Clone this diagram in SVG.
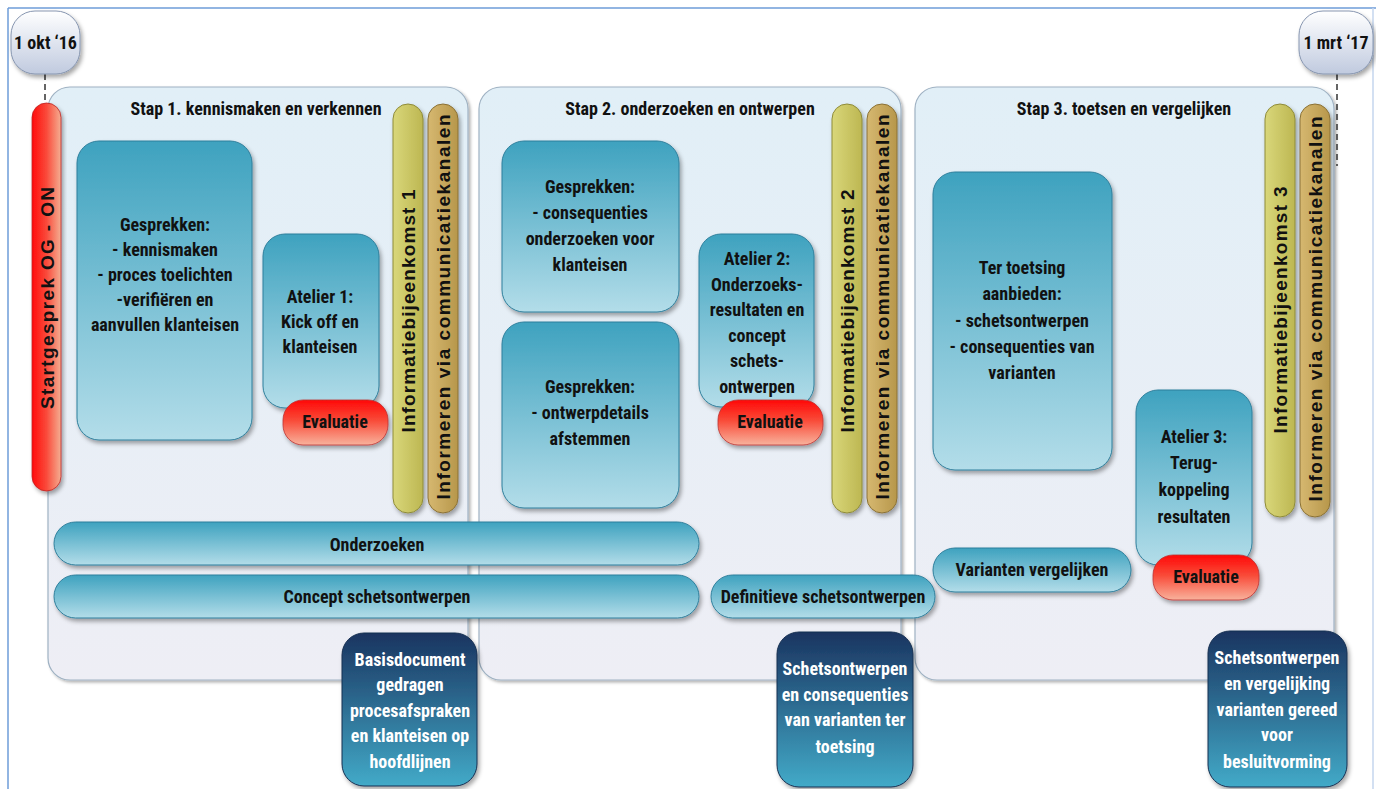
<svg xmlns="http://www.w3.org/2000/svg" width="1376" height="789" viewBox="0 0 1376 789">
<defs>
<linearGradient id="gBlue" x1="0" y1="0" x2="0" y2="1"><stop offset="0" stop-color="#3ea2bf"/><stop offset="1" stop-color="#b3dde9"/></linearGradient>
<linearGradient id="gPanel" x1="0" y1="0" x2="0" y2="1"><stop offset="0" stop-color="#e1eff7"/><stop offset="1" stop-color="#eeeef5"/></linearGradient>
<linearGradient id="gRedV" x1="0" y1="0" x2="0" y2="1"><stop offset="0" stop-color="#ff0808"/><stop offset="0.45" stop-color="#f94a38"/><stop offset="1" stop-color="#f8b29c"/></linearGradient>
<linearGradient id="gRedH" x1="0" y1="0" x2="1" y2="0"><stop offset="0" stop-color="#ff0a0a"/><stop offset="0.5" stop-color="#fa4a3a"/><stop offset="1" stop-color="#f4ae92"/></linearGradient>
<linearGradient id="gYel" x1="0" y1="0" x2="1" y2="0"><stop offset="0" stop-color="#d9d77a"/><stop offset="1" stop-color="#bdb752"/></linearGradient>
<linearGradient id="gBrn" x1="0" y1="0" x2="1" y2="0"><stop offset="0" stop-color="#d6b870"/><stop offset="1" stop-color="#b7974b"/></linearGradient>
<linearGradient id="gDark" x1="0" y1="0" x2="0" y2="1"><stop offset="0" stop-color="#1a3460"/><stop offset="1" stop-color="#42aac8"/></linearGradient>
<linearGradient id="gDate" x1="0" y1="0" x2="0" y2="1"><stop offset="0" stop-color="#ffffff"/><stop offset="1" stop-color="#c0cadf"/></linearGradient>
<filter id="sh" x="-20%" y="-20%" width="140%" height="140%"><feDropShadow dx="2" dy="3" stdDeviation="2" flood-color="#000" flood-opacity="0.35"/></filter>
<filter id="shp" x="-5%" y="-5%" width="110%" height="110%"><feDropShadow dx="2" dy="2" stdDeviation="1.5" flood-color="#000" flood-opacity="0.3"/></filter>
</defs>
<style>
.t{font-family:"Liberation Sans Narrow","Arial Narrow","Roboto Condensed","DejaVu Sans Condensed",sans-serif;font-weight:bold;font-size:18px;text-anchor:middle;fill:#111}
.w{fill:#ffffff}
.v{font-family:"Liberation Sans",Arial,sans-serif;font-weight:bold;font-size:19px;text-anchor:middle;fill:#111}
.panel{fill:url(#gPanel);stroke:#9fb2c3;stroke-width:1.2;filter:url(#shp)}
.blue{fill:url(#gBlue);stroke:#2f7f9c;stroke-width:1;filter:url(#sh)}
.red{fill:url(#gRedV);stroke:#b33;stroke-width:0.8;filter:url(#sh)}
.yel{fill:url(#gYel);stroke:#8e8b3a;stroke-width:1;filter:url(#sh)}
.brn{fill:url(#gBrn);stroke:#8a7136;stroke-width:1;filter:url(#sh)}
.dark{fill:url(#gDark);stroke:#173052;stroke-width:1;filter:url(#sh)}
.date{fill:url(#gDate);stroke:#8796b0;stroke-width:1;filter:url(#sh)}
.dash{stroke:#333;stroke-width:1.5;stroke-dasharray:6 4;fill:none}
</style>
<rect width="1376" height="789" fill="#ffffff"/>
<g id="frame" fill="none" stroke="#6e9dd8" stroke-width="1.5">
<line x1="8" y1="8" x2="1376" y2="8"/>
<line x1="8" y1="8" x2="8" y2="789"/>
<line x1="1373" y1="8" x2="1373" y2="789" stroke="#c5d6ee"/>
</g>
<g id="panel1"><rect class="panel" x="48" y="87" width="420" height="593" rx="22"/><text class="t" x="256" y="115">Stap 1. kennismaken en verkennen</text></g>
<g id="panel2"><rect class="panel" x="479" y="87" width="422" height="593" rx="22"/><text class="t" x="690" y="115">Stap 2. onderzoeken en ontwerpen</text></g>
<g id="panel3"><rect class="panel" x="915" y="87" width="419" height="593" rx="22"/><text class="t" x="1124" y="115">Stap 3. toetsen en vergelijken</text></g>
<g id="connectors">
<line class="dash" x1="45" y1="74" x2="45" y2="104"/>
<line class="dash" x1="1337" y1="74" x2="1337" y2="166"/>
</g>
<g id="date1"><rect class="date" x="11" y="11" width="69" height="63" rx="24"/><text class="t" x="45.5" y="49">1 okt ‘16</text></g>
<g id="date2"><rect class="date" x="1299" y="11" width="74" height="63" rx="24"/><text class="t" x="1336" y="49">1 mrt ‘17</text></g>
<g id="startgesprek"><rect x="32" y="103" width="29" height="388" rx="14.5" fill="url(#gRedH)" stroke="#b22" stroke-width="0.8" filter="url(#sh)"/><text class="v" transform="translate(47,298) rotate(-90)" x="0" y="7" textLength="222" lengthAdjust="spacing">Startgesprek OG - ON</text></g>
<g id="gesprekken1"><rect class="blue" x="77" y="141" width="175" height="299" rx="22"/>
<text class="t" x="165" y="231">Gesprekken:</text><text class="t" x="165" y="256">- kennismaken</text><text class="t" x="165" y="281">- proces toelichten</text><text class="t" x="165" y="306">-verifiëren en</text><text class="t" x="165" y="331">aanvullen klanteisen</text></g>
<g id="atelier1"><rect class="blue" x="263" y="234" width="116" height="174" rx="22"/>
<text class="t" x="320" y="303">Atelier 1:</text><text class="t" x="320" y="328">Kick off en</text><text class="t" x="320" y="353">klanteisen</text></g>
<g id="evaluatie1"><rect class="red" x="283" y="400" width="105" height="45" rx="20"/><text class="t" x="335" y="428">Evaluatie</text></g>
<g id="info1"><rect class="yel" x="393" y="104" width="30" height="409" rx="15"/><text class="v" transform="translate(408,311) rotate(-90)" x="0" y="7" textLength="243" lengthAdjust="spacing">Informatiebijeenkomst 1</text></g>
<g id="comm1"><rect class="brn" x="428" y="104" width="30" height="409" rx="15"/><text class="v" transform="translate(443,307) rotate(-90)" x="0" y="7" textLength="385" lengthAdjust="spacing">Informeren via communicatiekanalen</text></g>
<g id="gesprekken2"><rect class="blue" x="502" y="141" width="177" height="171" rx="22"/>
<text class="t" x="590" y="193">Gesprekken:</text><text class="t" x="590" y="219">- consequenties</text><text class="t" x="590" y="245">onderzoeken voor</text><text class="t" x="590" y="271">klanteisen</text></g>
<g id="gesprekken3"><rect class="blue" x="502" y="322" width="177" height="186" rx="22"/>
<text class="t" x="590" y="393">Gesprekken:</text><text class="t" x="590" y="419">- ontwerpdetails</text><text class="t" x="590" y="445">afstemmen</text></g>
<g id="atelier2"><rect class="blue" x="699" y="234" width="115" height="173" rx="22"/>
<text class="t" x="757" y="265">Atelier 2:</text><text class="t" x="757" y="291">Onderzoeks-</text><text class="t" x="757" y="316">resultaten en</text><text class="t" x="757" y="342">concept</text><text class="t" x="757" y="367">schets-</text><text class="t" x="757" y="393">ontwerpen</text></g>
<g id="evaluatie2"><rect class="red" x="718" y="400" width="105" height="45" rx="20"/><text class="t" x="770" y="428">Evaluatie</text></g>
<g id="info2"><rect class="yel" x="832" y="104" width="30" height="409" rx="15"/><text class="v" transform="translate(847,311) rotate(-90)" x="0" y="7" textLength="243" lengthAdjust="spacing">Informatiebijeenkomst 2</text></g>
<g id="comm2"><rect class="brn" x="867" y="104" width="30" height="409" rx="15"/><text class="v" transform="translate(882,307) rotate(-90)" x="0" y="7" textLength="385" lengthAdjust="spacing">Informeren via communicatiekanalen</text></g>
<g id="toetsing"><rect class="blue" x="933" y="172" width="179" height="298" rx="22"/>
<text class="t" x="1022" y="274">Ter toetsing</text><text class="t" x="1022" y="300">aanbieden:</text><text class="t" x="1022" y="327">- schetsontwerpen</text><text class="t" x="1022" y="353">- consequenties van</text><text class="t" x="1022" y="379">varianten</text></g>
<g id="atelier3"><rect class="blue" x="1136" y="390" width="116" height="175" rx="22"/>
<text class="t" x="1194" y="443">Atelier 3:</text><text class="t" x="1194" y="469">Terug-</text><text class="t" x="1194" y="496">koppeling</text><text class="t" x="1194" y="523">resultaten</text></g>
<g id="evaluatie3"><rect class="red" x="1153" y="555" width="106" height="45" rx="20"/><text class="t" x="1206" y="583">Evaluatie</text></g>
<g id="info3"><rect class="yel" x="1265" y="104" width="30" height="413" rx="15"/><text class="v" transform="translate(1280,310) rotate(-90)" x="0" y="7" textLength="247" lengthAdjust="spacing">Informatiebijeenkomst 3</text></g>
<g id="comm3"><rect class="brn" x="1300" y="104" width="30" height="413" rx="15"/><text class="v" transform="translate(1315,309) rotate(-90)" x="0" y="7" textLength="385" lengthAdjust="spacing">Informeren via communicatiekanalen</text></g>
<g id="onderzoeken"><rect class="blue" x="54" y="522" width="645" height="43" rx="21.5"/><text class="t" x="377" y="551">Onderzoeken</text></g>
<g id="concept"><rect class="blue" x="54" y="575" width="645" height="43" rx="21.5"/><text class="t" x="377" y="603">Concept schetsontwerpen</text></g>
<g id="definitief"><rect class="blue" x="711" y="575" width="224" height="43" rx="21.5"/><text class="t" x="823" y="603">Definitieve schetsontwerpen</text></g>
<g id="varianten"><rect class="blue" x="933" y="548" width="198" height="44" rx="22"/><text class="t" x="1032" y="576">Varianten vergelijken</text></g>
<g id="result1"><rect class="dark" x="342" y="633" width="135" height="153" rx="22"/>
<text class="t w" x="410" y="666">Basisdocument</text><text class="t w" x="410" y="691">gedragen</text><text class="t w" x="410" y="717">procesafspraken</text><text class="t w" x="410" y="742">en klanteisen op</text><text class="t w" x="410" y="768">hoofdlijnen</text></g>
<g id="result2"><rect class="dark" x="777" y="632" width="136" height="155" rx="22"/>
<text class="t w" x="845" y="675">Schetsontwerpen</text><text class="t w" x="845" y="701">en consequenties</text><text class="t w" x="845" y="726">van varianten ter</text><text class="t w" x="845" y="753">toetsing</text></g>
<g id="result3"><rect class="dark" x="1208" y="631" width="139" height="156" rx="22"/>
<text class="t w" x="1277" y="664">Schetsontwerpen</text><text class="t w" x="1277" y="690">en vergelijking</text><text class="t w" x="1277" y="716">varianten gereed</text><text class="t w" x="1277" y="741">voor</text><text class="t w" x="1277" y="768">besluitvorming</text></g>
</svg>
